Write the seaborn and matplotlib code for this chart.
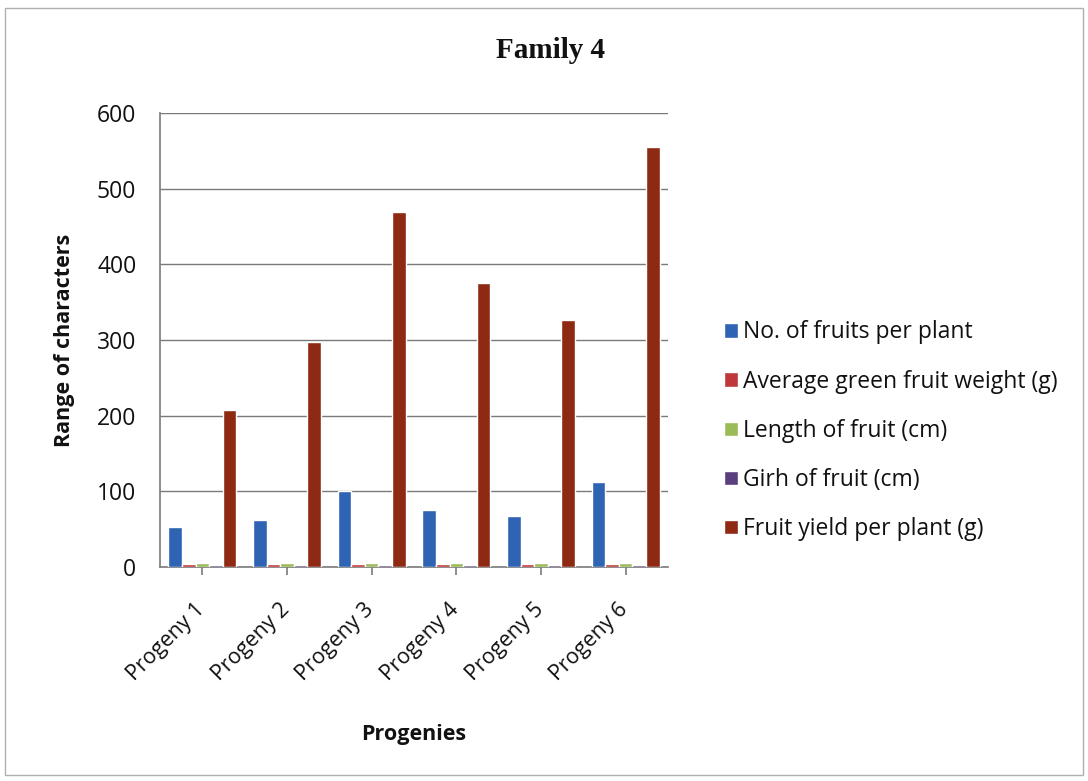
import matplotlib
matplotlib.use("Agg")
import matplotlib.pyplot as plt
import matplotlib.transforms as mtransforms
import seaborn as sns
import pandas as pd
from matplotlib.patches import Rectangle

# Progeny groups and measured characters
progenies = ["Progeny 1", "Progeny 2", "Progeny 3", "Progeny 4", "Progeny 5", "Progeny 6"]
fruits_per_plant = [53, 62, 100, 75, 67, 113]
green_fruit_weight = [4, 4, 4, 4, 4, 4]
fruit_length = [5, 5, 5, 5, 5, 5]
fruit_girth = [3, 3, 3, 3, 3, 3]
fruit_yield = [208, 297, 470, 375, 327, 555]

series_names = [
    "No. of fruits per plant",
    "Average green fruit weight (g)",
    "Length of fruit (cm)",
    "Girh of fruit (cm)",
    "Fruit yield per plant (g)",
]
series_values = [fruits_per_plant, green_fruit_weight, fruit_length, fruit_girth, fruit_yield]
colors = ["#2F63B3", "#C0393A", "#9BBB59", "#5A3F7E", "#8E2A14"]

rows = []
for name, vals in zip(series_names, series_values):
    for prog, v in zip(progenies, vals):
        rows.append({"Progeny": prog, "Character": name, "Value": v})
df = pd.DataFrame(rows)

sns.set_theme(style="white")
plt.rcParams["font.family"] = ["Open Sans", "DejaVu Sans"]

fig = plt.figure(figsize=(10.88, 7.81), dpi=100)
ax = fig.add_axes([0.147, 0.274, 0.467, 0.581])

sns.barplot(data=df, x="Progeny", y="Value", hue="Character",
            palette=colors, width=0.8, ax=ax, saturation=1,
            zorder=3, legend=True)

ax.set_ylim(0, 600)
ax.set_yticks(range(0, 601, 100))
ax.yaxis.grid(True, color="#7a7a7a", linewidth=1.0, zorder=0)
ax.xaxis.grid(False)
for side in ["top", "right"]:
    ax.spines[side].set_visible(False)
ax.spines["left"].set_color("#808080")
ax.spines["bottom"].set_color("#808080")
ax.tick_params(axis="both", length=6, color="#808080", direction="out",
               labelcolor="#111111")
ax.tick_params(axis="y", pad=11, labelsize=16.5)
ax.tick_params(axis="x", bottom=True, pad=17)

# rotated category labels, nudged left so their ends sit just before each group centre
shift = mtransforms.ScaledTranslation(-8 / 100, 0, fig.dpi_scale_trans)
for lbl in ax.get_xticklabels():
    lbl.set_rotation(45)
    lbl.set_ha("right")
    lbl.set_rotation_mode("anchor")
    lbl.set_fontsize(15.5)
    lbl.set_transform(lbl.get_transform() + shift)

ax.set_xlabel("Progenies", fontsize=15.5, fontweight="bold", labelpad=28, color="#111111")
ax.set_ylabel("Range of characters", fontsize=15.5, fontweight="bold", labelpad=16, color="#111111")

fig.text(0.506, 0.935, "Family 4", fontsize=21, fontweight="bold",
         family=["Liberation Serif", "DejaVu Serif"], ha="center", va="center", color="#111111")

leg = ax.legend(loc="center left", bbox_to_anchor=(1.092, 0.30), frameon=False,
                fontsize=16.5, labelspacing=1.1, handlelength=0.6, handleheight=0.6,
                handletextpad=0.25, borderaxespad=0)
for t in leg.get_texts():
    t.set_color("#111111")

fig.patches.append(Rectangle((0.005, 0.008), 0.99, 0.982, transform=fig.transFigure,
                             fill=False, edgecolor="#b0b0b0", linewidth=1.0))

fig.savefig("out.png", dpi=100)
